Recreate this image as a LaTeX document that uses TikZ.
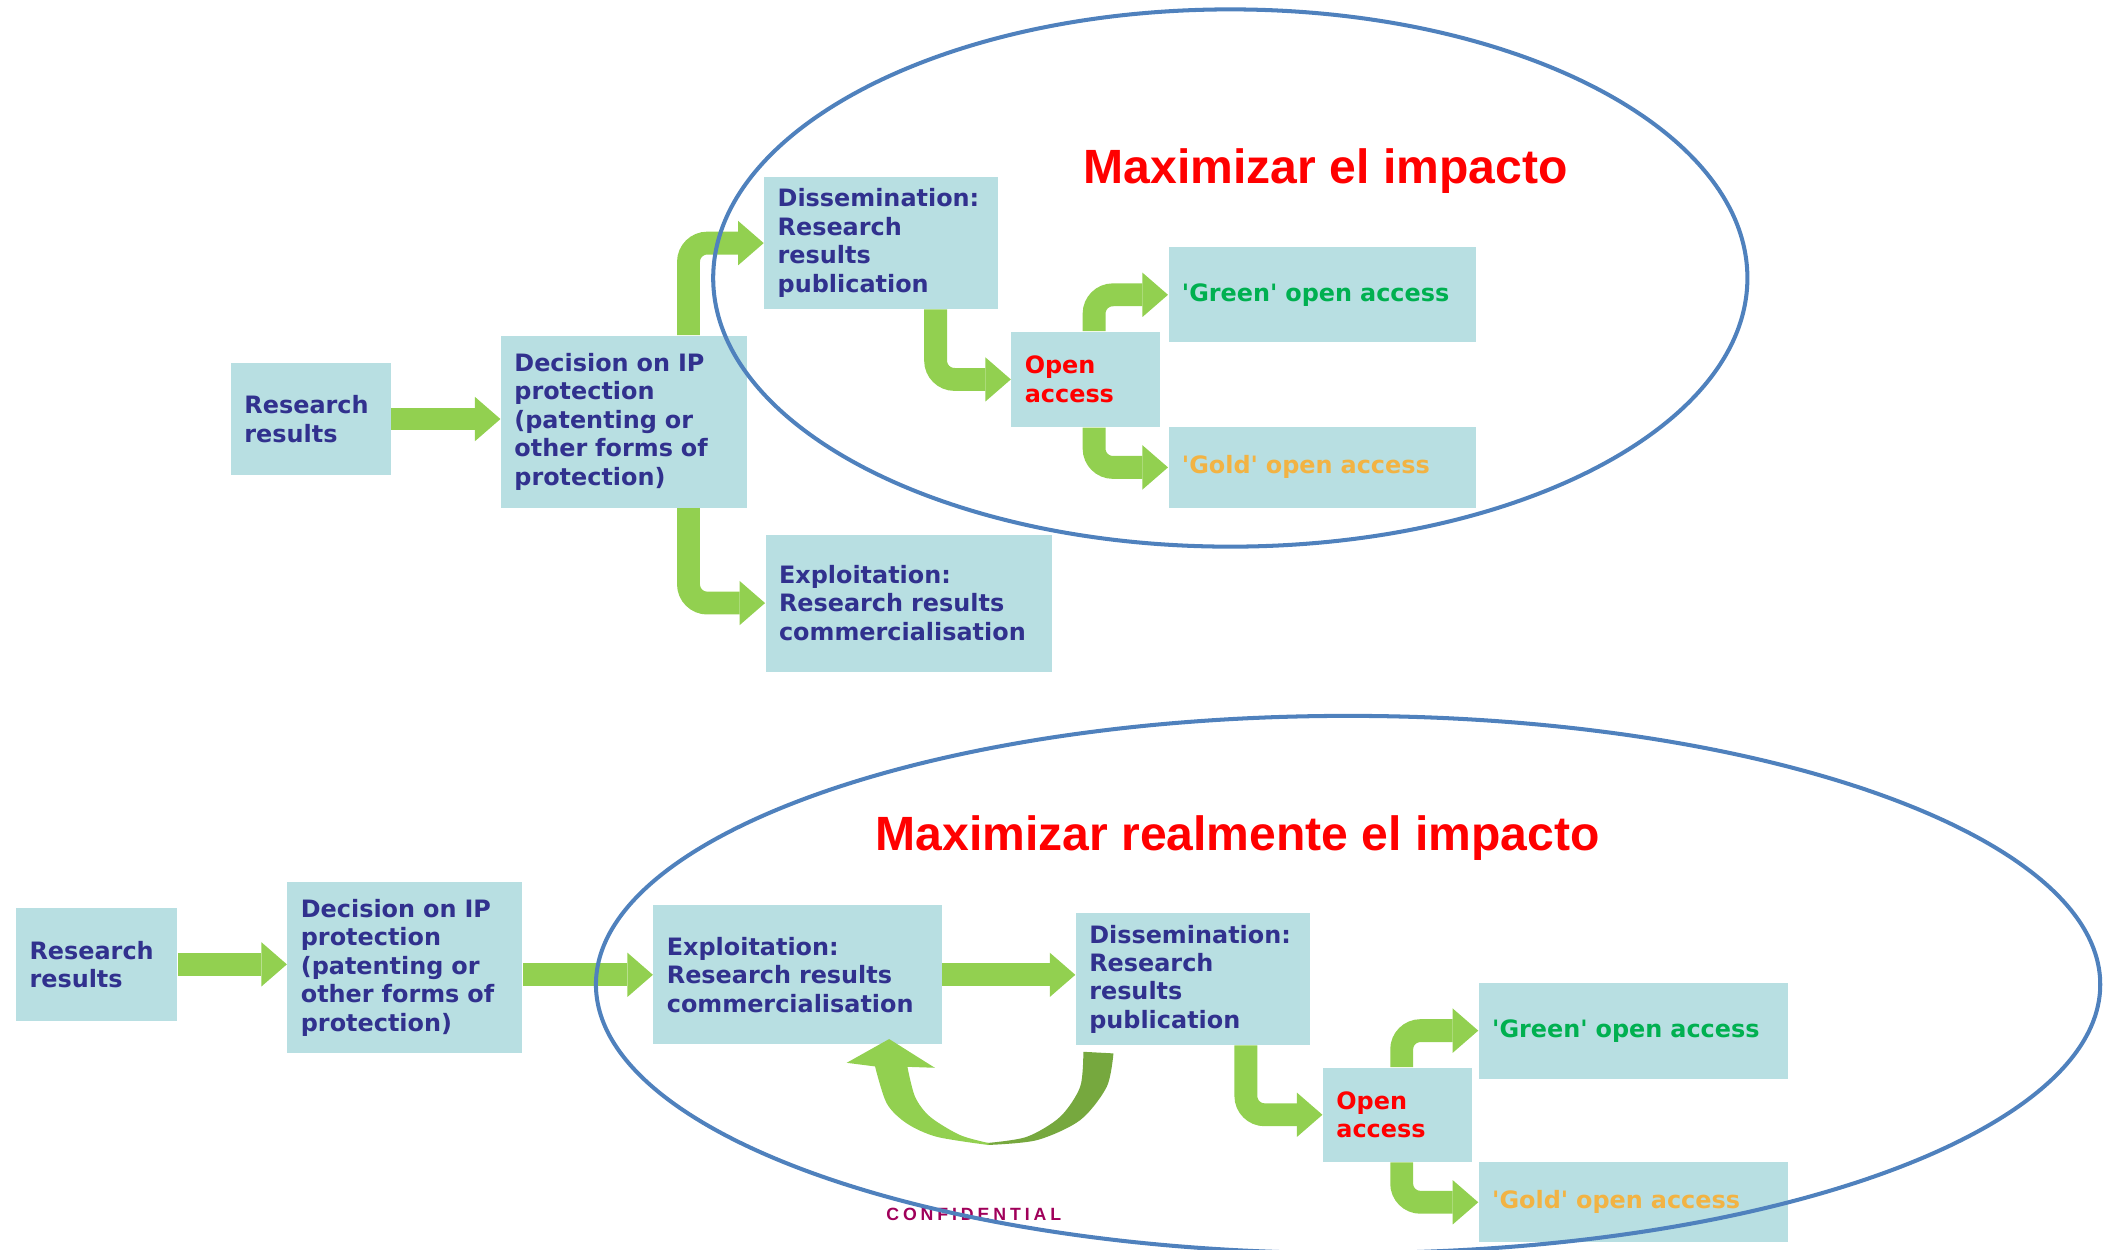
\documentclass[tikz,border=0pt]{standalone}
\usepackage{fontspec}
\usetikzlibrary{arrows.meta,calc}
\newfontfamily\vfont{DejaVu Sans}
\newfontfamily\afont{Liberation Sans}
\newfontfamily\cfont{Liberation Sans}[LetterSpace=22]
\definecolor{boxc}{HTML}{B8DFE2}
\definecolor{navy}{HTML}{31318E}
\definecolor{agreen}{HTML}{92D050}
\definecolor{dgreen}{HTML}{76A83E}
\definecolor{gtext}{HTML}{00B050}
\definecolor{goldt}{HTML}{F2B343}
\definecolor{ellc}{HTML}{4F81BD}
\definecolor{confc}{HTML}{A0005A}
\tikzset{
  bx/.style={fill=boxc, inner xsep=5pt, inner ysep=0pt, align=left, text=navy,
    font=\vfont\bfseries\fontsize{8.9}{10.6}\selectfont},
  garrow/.style={draw=agreen, line width=8.5pt,
    -{Triangle[width=16.5pt,length=9.5pt,line width=0pt]}, rounded corners=7pt},
  ell/.style={draw=ellc, line width=1.5pt},
  titletext/.style={text=red, font=\afont\bfseries\fontsize{17.9}{20}\selectfont, inner sep=0pt},
}
\newcommand\mkbox[7]{%
  \pgfmathsetmacro\bw{(#5-#3)*0.5}%
  \pgfmathsetmacro\bh{(#6-#4)*0.5}%
  \pgfmathsetmacro\tw{(#5-#3)*0.5-10}%
  \node[bx,#1,minimum width=\bw pt,minimum height=\bh pt,text width=\tw pt] (#2) at ({(#3+#5)/2},{(#4+#6)/2}) {#7};%
}
\begin{document}
\begin{tikzpicture}[x=0.5pt,y=-0.5pt]
\useasboundingbox (0,0) rectangle (1568,930);
% ---------- top diagram ----------
\mkbox{}{R1}{172}{270}{291}{354}{Research\\results}
\mkbox{}{D1}{373}{250}{556}{378}{Decision on IP\\protection\\(patenting or\\other forms of\\protection)}
\mkbox{}{S1}{569}{132}{743}{230}{Dissemination:\\Research\\results\\publication}
\mkbox{}{E1}{570}{398}{783}{500}{Exploitation:\\Research results\\commercialisation}
\mkbox{text=red}{O1}{753}{247}{864}{318}{Open\\access}
\mkbox{text=gtext}{G1}{870}{184}{1099}{255}{\textquotesingle Green\textquotesingle{} open access}
\mkbox{text=goldt}{A1}{870}{318}{1099}{378}{\textquotesingle Gold\textquotesingle{} open access}
\draw[garrow] (R1.east) -- (R1.east -| D1.west);
\draw[garrow] ($(D1.north west)+(140,0)$) |- (S1.west);
\draw[garrow] ($(D1.south west)+(140,0)$) |- (E1.west);
\draw[garrow] ($(S1.south west)+(128,0)$) |- (O1.west);
\draw[garrow] ($(O1.north west)+(62,0)$) |- (G1.west);
\draw[garrow] ($(O1.south west)+(62,0)$) |- (A1.west);
\node[titletext] (T1) at (987,127) {Maximizar el impacto};
% ---------- bottom diagram ----------
\mkbox{}{R2}{12}{676}{132}{760}{Research\\results}
\mkbox{}{D2}{214}{657}{389}{784}{Decision on IP\\protection\\(patenting or\\other forms of\\protection)}
\mkbox{}{E2}{486.5}{674}{701}{777.6}{Exploitation:\\Research results\\commercialisation}
\mkbox{}{S2}{801}{680}{975}{778}{Dissemination:\\Research\\results\\publication}
\mkbox{text=red}{O2}{985}{795}{1096}{865}{Open\\access}
\mkbox{text=gtext}{G2}{1101}{731.7}{1331}{803}{\textquotesingle Green\textquotesingle{} open access}
\mkbox{text=goldt}{A2}{1101}{865.3}{1331}{925}{\textquotesingle Gold\textquotesingle{} open access}
\draw[garrow] (R2.east) -- (R2.east -| D2.west);
\draw[garrow] (D2.east |- E2.west) -- (E2.west);
\draw[garrow] (E2.east) -- (E2.east -| S2.west);
\draw[garrow] ($(S2.south west)+(127,0)$) |- (O2.west);
\draw[garrow] ($(O2.north west)+(59,0)$) |- (G2.west);
\draw[garrow] ($(O2.south west)+(59,0)$) |- (A2.west);
% curved feedback arrow (Dissemination -> Exploitation)
\fill[dgreen] plot[smooth] coordinates {(829,784.3) (824,809.2) (804.2,834) (771.9,848.9) (735,852.5)}
  -- plot[smooth] coordinates {(735,851) (764.5,846.4) (789.3,831.5) (804.2,809.2) (806.6,783.1)} -- cycle;
\fill[agreen] plot[smooth] coordinates {(736,852.5) (697.5,846.4) (675.1,836.4) (660.2,821.5) (651.5,794)}
  -- (630.4,791.3) -- (662,773.6) -- (696,795) -- (675.6,794.3)
  -- plot[smooth] coordinates {(675.6,794.3) (681.3,816.6) (692.5,831.5) (714.8,845.1) (736,851)} -- cycle;
\node[titletext] (T2) at (921.5,624) {Maximizar realmente el impacto};
\node[text=confc, font=\cfont\bfseries\fontsize{6.6}{7}\selectfont, inner sep=0pt] (CONF) at (725,904) {CONFIDENTIAL};
% ---------- ellipses ----------
\draw[ell] (916,207) ellipse [x radius=192.5pt, y radius=100pt];
\draw[ell] (1003.7,733) ellipse [x radius=280pt, y radius=100pt];
\end{tikzpicture}
\end{document}
